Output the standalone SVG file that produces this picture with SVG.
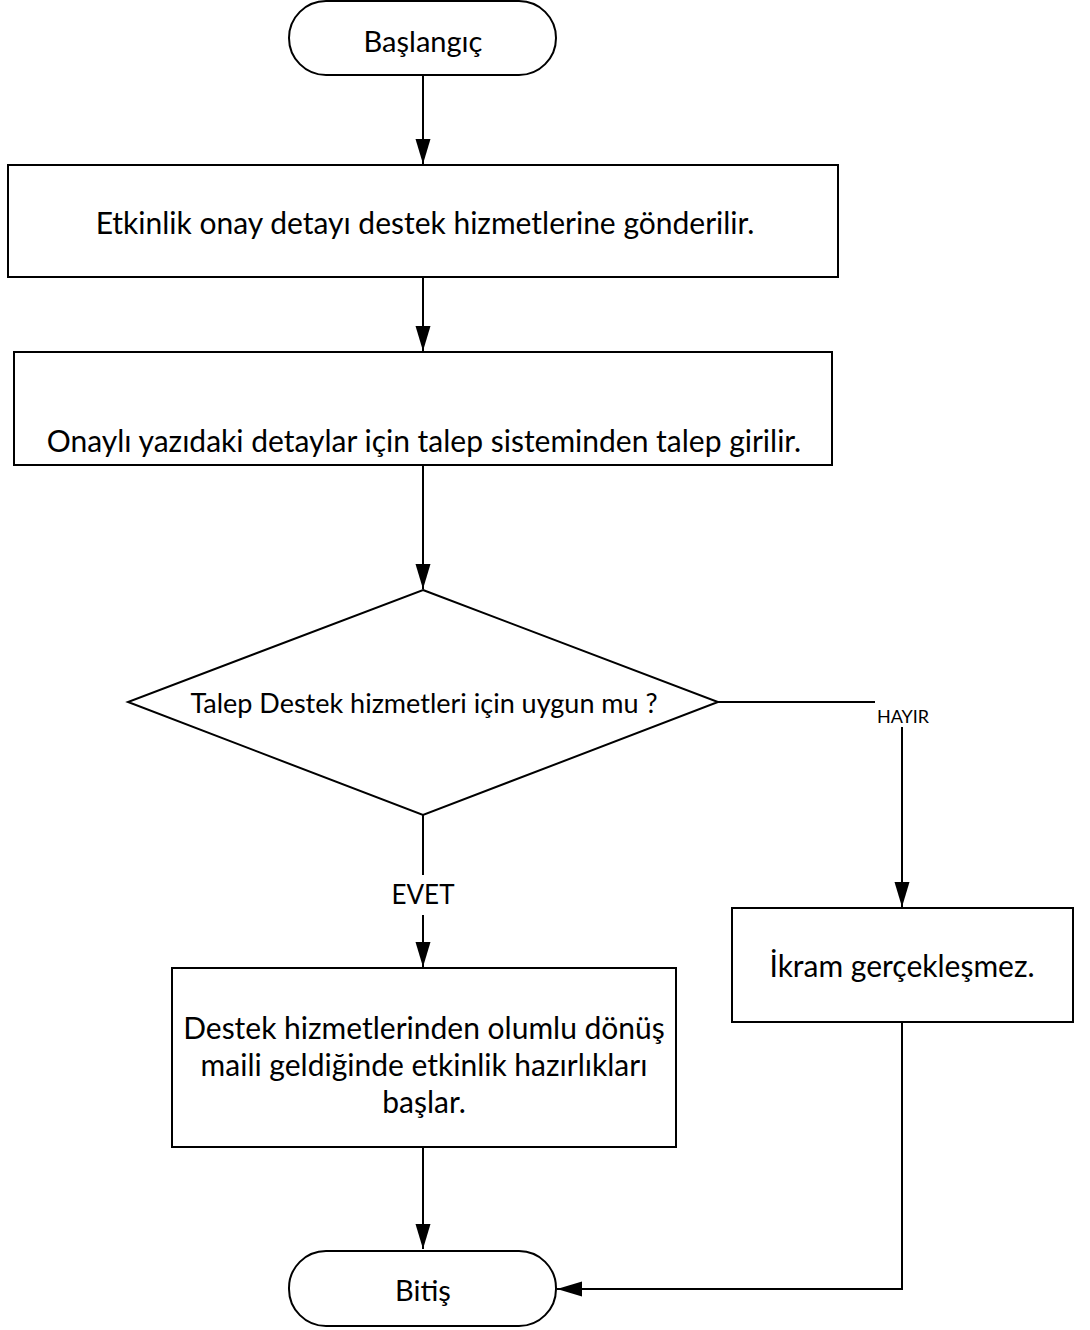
<svg xmlns="http://www.w3.org/2000/svg" width="1090" height="1330" viewBox="0 0 1090 1330">
<style>
.s{fill:#fff;stroke:#000;stroke-width:2}
.t{font-family:Lato,"Open Sans","Liberation Sans",sans-serif;font-size:30px;fill:#000;text-anchor:middle;dominant-baseline:central}
.c{fill:none;stroke:#000;stroke-width:2}
.l{font-family:Lato,"Open Sans","Liberation Sans",sans-serif;font-size:26px;fill:#000;text-anchor:middle;dominant-baseline:central}
</style>
<defs>
<marker id="a" markerUnits="userSpaceOnUse" markerWidth="26" markerHeight="18" refX="25" refY="9" orient="auto">
<path d="M0,1.5 L25,9 L0,16.5 Z" fill="#000"/>
</marker>
</defs>
<rect width="1090" height="1330" fill="#fff"/>
<g id="edges">
<path class="c" d="M423,75 V164" marker-end="url(#a)"/>
<path class="c" d="M423,277 V351" marker-end="url(#a)"/>
<path class="c" d="M423,465 V589" marker-end="url(#a)"/>
<path class="c" d="M423,815 V875"/>
<path class="c" d="M423,915 V967" marker-end="url(#a)"/>
<text class="l" x="423" y="894">EVET</text>
<path class="c" d="M718,702 H875"/>
<text class="l" x="903" y="716" style="font-size:18px">HAYIR</text>
<path class="c" d="M902,727 V907" marker-end="url(#a)"/>
<path class="c" d="M423,1147 V1249" marker-end="url(#a)"/>
<path class="c" d="M902,1022 V1289 H557" marker-end="url(#a)"/>
</g>
<g id="start">
<rect class="s" x="289" y="1" width="267" height="74" rx="37"/>
<text class="t" x="423" y="40" style="font-size:29px">Başlangıç</text>
</g>
<g id="n1">
<rect class="s" x="8" y="165" width="830" height="112"/>
<text class="t" x="425" y="222">Etkinlik onay detayı destek hizmetlerine gönderilir.</text>
</g>
<g id="n2">
<rect class="s" x="14" y="352" width="818" height="113"/>
<text class="t" x="424" y="440">Onaylı yazıdaki detaylar için talep sisteminden talep girilir.</text>
</g>
<g id="d1">
<path class="s" d="M423,590 L718,702 L423,815 L128,702 Z"/>
<text class="t" x="424" y="702" style="font-size:27px">Talep Destek hizmetleri için uygun mu ?</text>
</g>
<g id="n3">
<rect class="s" x="172" y="968" width="504" height="179"/>
<text class="t" x="424" y="1027">Destek hizmetlerinden olumlu dönüş</text>
<text class="t" x="424" y="1064">maili geldiğinde etkinlik hazırlıkları</text>
<text class="t" x="424" y="1101">başlar.</text>
</g>
<g id="n4">
<rect class="s" x="732" y="908" width="341" height="114"/>
<text class="t" x="902" y="965">İkram gerçekleşmez.</text>
</g>
<g id="end">
<rect class="s" x="289" y="1251" width="267" height="75" rx="37"/>
<text class="t" x="423" y="1289" style="font-size:29px">Bitiş</text>
</g>
</svg>
